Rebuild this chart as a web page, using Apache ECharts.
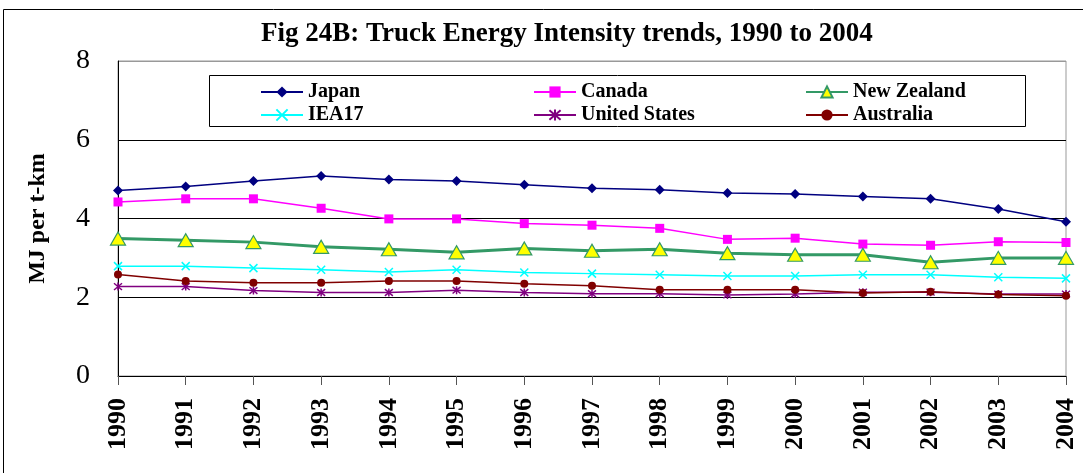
<!DOCTYPE html>
<html>
<head>
<meta charset="utf-8">
<script src="https://cdn.jsdelivr.net/npm/echarts@6/dist/echarts.min.js"></script>
<style>
  html, body { margin: 0; padding: 0; background: #fff; }
  #chart { width: 1083px; height: 473px; }
</style>
</head>
<body>
<div id="chart"></div>
<script>
const years = ['1990', '1991', '1992', '1993', '1994', '1995', '1996', '1997', '1998', '1999', '2000', '2001', '2002', '2003', '2004']

const japan = [4.71, 4.81, 4.95, 5.08, 4.99, 4.95, 4.86, 4.77, 4.73, 4.65, 4.62, 4.56, 4.50, 4.24, 3.92]
const canada = [4.42, 4.50, 4.50, 4.26, 3.99, 3.99, 3.87, 3.83, 3.75, 3.47, 3.50, 3.35, 3.32, 3.41, 3.39]
const newZealand = [3.49, 3.45, 3.40, 3.28, 3.22, 3.14, 3.24, 3.18, 3.22, 3.12, 3.08, 3.08, 2.89, 3.00, 3.00]
const iea17 = [2.79, 2.79, 2.74, 2.70, 2.64, 2.70, 2.63, 2.60, 2.57, 2.54, 2.54, 2.57, 2.57, 2.51, 2.48]
const unitedStates = [2.27, 2.27, 2.17, 2.12, 2.12, 2.18, 2.12, 2.09, 2.09, 2.06, 2.08, 2.13, 2.13, 2.08, 2.08]
const australia = [2.58, 2.41, 2.37, 2.37, 2.41, 2.41, 2.34, 2.29, 2.19, 2.19, 2.19, 2.11, 2.14, 2.07, 2.04]

const serif = "'Liberation Serif', 'Times New Roman', serif"

// open-stroke markers (x and asterisk)
const xMark = 'path://M0,0L10,10M10,0L0,10'
const starMark = 'path://M0,0L10,10M10,0L0,10M5,-1L5,11'

const chart = echarts.init(document.getElementById('chart'))

const legendBase = {
  orient: 'vertical',
  top: 82,
  z: 10,
  padding: 0,
  itemWidth: 42,
  itemHeight: 14,
  itemGap: 3,
  textStyle: { fontFamily: serif, fontWeight: 'bold', fontSize: 20, lineHeight: 20, color: '#000' }
}

chart.setOption({
  animation: false,
  title: {
    text: 'Fig 24B: Truck Energy Intensity trends, 1990 to 2004',
    left: 256,
    top: 16,
    textStyle: { fontFamily: serif, fontWeight: 'bold', fontSize: 27, color: '#000' }
  },
  graphic: [
    { type: 'rect', shape: { x: 3.5, y: 9.5, width: 1100, height: 500 }, style: { fill: null, stroke: '#000', lineWidth: 1 }, z: 0, silent: true },
    { type: 'rect', shape: { x: 209.5, y: 75.5, width: 816, height: 51 }, style: { fill: '#fff', stroke: '#000', lineWidth: 1 }, z: 1, silent: true }
  ],
  legend: [
    Object.assign({ left: 260, data: ['Japan', 'IEA17'] }, legendBase),
    Object.assign({ left: 533, data: ['Canada', 'United States'] }, legendBase),
    Object.assign({ left: 805, data: ['New Zealand', 'Australia'] }, legendBase)
  ],
  grid: {
    left: 118, right: 17, top: 61, bottom: 97,
    show: true, borderColor: '#999', borderWidth: 1
  },
  xAxis: {
    type: 'category',
    data: years,
    boundaryGap: false,
    axisLine: { lineStyle: { color: '#000', width: 1 } },
    axisTick: { show: true, length: 9, alignWithLabel: true, lineStyle: { color: '#555' } },
    axisLabel: { rotate: 90, margin: 22, fontFamily: serif, fontWeight: 'bold', fontSize: 26, color: '#000' }
  },
  yAxis: {
    type: 'value',
    min: 0, max: 8, interval: 2,
    name: 'MJ per t-km',
    nameLocation: 'middle',
    nameGap: 68,
    nameTextStyle: { fontFamily: serif, fontWeight: 'bold', fontSize: 24, color: '#000' },
    axisLine: { show: true, lineStyle: { color: '#000', width: 1 } },
    axisTick: { show: false },
    axisLabel: { margin: 28, fontFamily: serif, fontSize: 28, color: '#000' },
    splitLine: { show: true, lineStyle: { color: ['#000', '#000', '#000', '#000', '#999'], width: 1 } }
  },
  series: [
    {
      name: 'Japan', type: 'line', data: japan,
      symbol: 'diamond', symbolSize: 10,
      lineStyle: { color: '#000080', width: 1.5 },
      itemStyle: { color: '#000080' }
    },
    {
      name: 'Canada', type: 'line', data: canada,
      symbol: 'rect', symbolSize: 9,
      lineStyle: { color: '#ff00ff', width: 1.5 },
      itemStyle: { color: '#ff00ff' }
    },
    {
      name: 'New Zealand', type: 'line', data: newZealand,
      symbol: 'triangle', symbolSize: [15, 13],
      lineStyle: { color: '#339966', width: 3 },
      itemStyle: { color: '#ffff00', borderColor: '#339966', borderWidth: 1.2 }
    },
    {
      name: 'IEA17', type: 'line', data: iea17,
      symbol: xMark, symbolSize: 8,
      lineStyle: { color: '#00ffff', width: 1.5 },
      itemStyle: { color: '#00ffff', borderColor: '#00ffff', borderWidth: 1.5 }
    },
    {
      name: 'United States', type: 'line', data: unitedStates,
      symbol: starMark, symbolSize: 8,
      lineStyle: { color: '#800080', width: 1.5 },
      itemStyle: { color: '#800080', borderColor: '#800080', borderWidth: 1.5 }
    },
    {
      name: 'Australia', type: 'line', data: australia,
      symbol: 'circle', symbolSize: 8,
      lineStyle: { color: '#800000', width: 1.5 },
      itemStyle: { color: '#800000' }
    }
  ]
})

window.addEventListener('resize', () => {
  chart.resize()
})
</script>
</body>
</html>
